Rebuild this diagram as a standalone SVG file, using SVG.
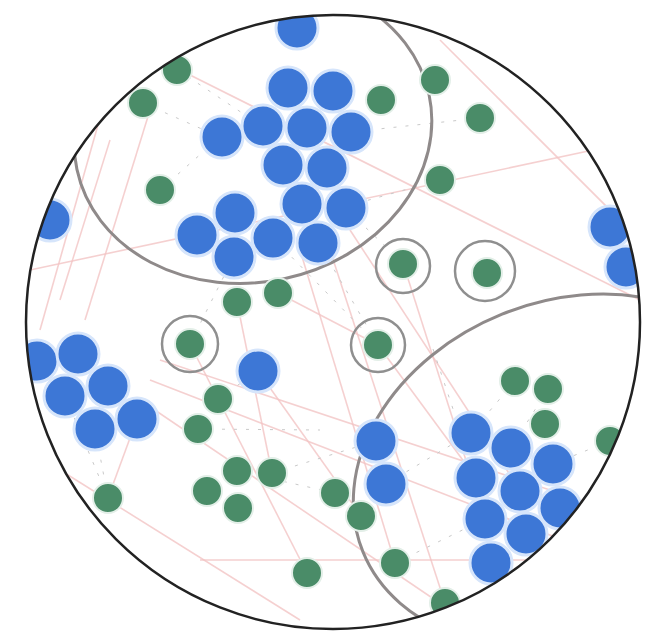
<svg xmlns="http://www.w3.org/2000/svg" width="646" height="632" viewBox="0 0 646 632">
<defs>
<clipPath id="lens"><circle cx="333" cy="322" r="307"/></clipPath>
<style>
.b{fill:#3d77d6;stroke:#d6e5fb;stroke-width:3}
.g{fill:#4a8c68;stroke:#e3efe8;stroke-width:2}
.e{stroke:#f2c4c4;stroke-width:1.6;fill:none;opacity:.8}
.d{stroke:#c9c9c9;stroke-width:1;fill:none;stroke-dasharray:3 9}
.ring{fill:none;stroke:#8f8f8f;stroke-width:2.5}
.hull{fill:none;stroke:#8f8a8a;stroke-width:3}
</style>
</defs>
<rect width="646" height="632" fill="#fff"/>
<g clip-path="url(#lens)">
<g id="connectors">
<path class="e" d="M60 300 L110 140"/>
<path class="e" d="M85 320 L150 110"/>
<path class="e" d="M40 330 L105 100"/>
<path class="e" d="M150 380 L640 570"/>
<path class="e" d="M140 400 L450 610"/>
<path class="e" d="M160 360 L640 520"/>
<path class="e" d="M330 250 L445 603"/>
<path class="e" d="M300 250 L395 563"/>
<path class="e" d="M350 230 L520 490"/>
<path class="e" d="M378 345 L476 478"/>
<path class="e" d="M403 263 L485 520"/>
<path class="e" d="M190 344 L307 573"/>
<path class="e" d="M258 371 L361 516"/>
<path class="e" d="M237 302 L272 473"/>
<path class="e" d="M278 293 L378 345"/>
<path class="e" d="M30 270 L640 140"/>
<path class="e" d="M120 40 L640 300"/>
<path class="e" d="M440 40 L640 240"/>
<path class="e" d="M60 470 L300 620"/>
<path class="e" d="M108 498 L137 419"/>
<path class="e" d="M200 560 L640 560"/>
<path class="d" d="M143 103 L220 137"/>
<path class="d" d="M178 70 L263 127"/>
<path class="d" d="M160 190 L220 137"/>
<path class="d" d="M381 101 L350 130"/>
<path class="d" d="M480 118 L351 132"/>
<path class="d" d="M440 180 L344 207"/>
<path class="d" d="M190 344 L233 258"/>
<path class="d" d="M378 345 L318 242"/>
<path class="d" d="M378 345 L273 238"/>
<path class="d" d="M403 263 L344 207"/>
<path class="d" d="M218 399 L258 371"/>
<path class="d" d="M237 471 L335 493"/>
<path class="d" d="M272 473 L376 441"/>
<path class="d" d="M198 429 L320 430"/>
<path class="d" d="M108 498 L95 429"/>
<path class="d" d="M108 498 L65 396"/>
<path class="d" d="M515 381 L471 433"/>
<path class="d" d="M548 389 L511 448"/>
<path class="d" d="M610 441 L553 464"/>
<path class="d" d="M395 563 L485 519"/>
<path class="d" d="M386 484 L471 433"/>
<path class="d" d="M433 349 L476 478"/>
<path class="d" d="M238 303 L240 250"/>
</g>
<ellipse class="hull" cx="253" cy="132" rx="180" ry="150" transform="rotate(-12 253 132)"/>
<ellipse class="hull" cx="565" cy="470" rx="218" ry="168" transform="rotate(-22 565 470)"/>
<circle class="ring" cx="190" cy="344" r="28"/>
<circle class="ring" cx="378" cy="345" r="27"/>
<circle class="ring" cx="403" cy="266" r="27"/>
<circle class="ring" cx="485" cy="271" r="30"/>
<g id="n1"><circle class="b" cx="297" cy="28" r="21"/></g>
<g id="n2"><circle class="b" cx="288" cy="88" r="21"/></g>
<g id="n3"><circle class="b" cx="333" cy="91" r="21"/></g>
<g id="n4"><circle class="b" cx="222" cy="137" r="21"/></g>
<g id="n5"><circle class="b" cx="263" cy="126" r="21"/></g>
<g id="n6"><circle class="b" cx="307" cy="128" r="21"/></g>
<g id="n7"><circle class="b" cx="351" cy="132" r="21"/></g>
<g id="n8"><circle class="b" cx="283" cy="165" r="21"/></g>
<g id="n9"><circle class="b" cx="327" cy="168" r="21"/></g>
<g id="n10"><circle class="b" cx="302" cy="204" r="21"/></g>
<g id="n11"><circle class="b" cx="346" cy="208" r="21"/></g>
<g id="n12"><circle class="b" cx="235" cy="213" r="21"/></g>
<g id="n13"><circle class="b" cx="197" cy="235" r="21"/></g>
<g id="n14"><circle class="b" cx="234" cy="257" r="21"/></g>
<g id="n15"><circle class="b" cx="273" cy="238" r="21"/></g>
<g id="n16"><circle class="b" cx="318" cy="243" r="21"/></g>
<g id="n17"><circle class="b" cx="50" cy="220" r="21"/></g>
<g id="n18"><circle class="b" cx="610" cy="227" r="21"/></g>
<g id="n19"><circle class="b" cx="626" cy="267" r="21"/></g>
<g id="n20"><circle class="g" cx="177" cy="70" r="15"/></g>
<g id="n21"><circle class="g" cx="143" cy="103" r="15"/></g>
<g id="n22"><circle class="g" cx="160" cy="190" r="15"/></g>
<g id="n23"><circle class="g" cx="237" cy="302" r="15"/></g>
<g id="n24"><circle class="g" cx="278" cy="293" r="15"/></g>
<g id="n25"><circle class="g" cx="435" cy="80" r="15"/></g>
<g id="n26"><circle class="g" cx="381" cy="100" r="15"/></g>
<g id="n27"><circle class="g" cx="480" cy="118" r="15"/></g>
<g id="n28"><circle class="g" cx="440" cy="180" r="15"/></g>
<g id="n29"><circle class="g" cx="403" cy="264" r="15"/></g>
<g id="n30"><circle class="g" cx="487" cy="273" r="15"/></g>
<g id="n31"><circle class="b" cx="37" cy="361" r="21"/></g>
<g id="n32"><circle class="b" cx="78" cy="354" r="21"/></g>
<g id="n33"><circle class="b" cx="65" cy="396" r="21"/></g>
<g id="n34"><circle class="b" cx="108" cy="386" r="21"/></g>
<g id="n35"><circle class="b" cx="95" cy="429" r="21"/></g>
<g id="n36"><circle class="b" cx="137" cy="419" r="21"/></g>
<g id="n37"><circle class="b" cx="258" cy="371" r="21"/></g>
<g id="n38"><circle class="g" cx="190" cy="344" r="15"/></g>
<g id="n39"><circle class="g" cx="378" cy="345" r="15"/></g>
<g id="n40"><circle class="g" cx="218" cy="399" r="15"/></g>
<g id="n41"><circle class="g" cx="198" cy="429" r="15"/></g>
<g id="n42"><circle class="g" cx="237" cy="471" r="15"/></g>
<g id="n43"><circle class="g" cx="272" cy="473" r="15"/></g>
<g id="n44"><circle class="g" cx="207" cy="491" r="15"/></g>
<g id="n45"><circle class="g" cx="238" cy="508" r="15"/></g>
<g id="n46"><circle class="g" cx="108" cy="498" r="15"/></g>
<g id="n47"><circle class="g" cx="307" cy="573" r="15"/></g>
<g id="n48"><circle class="b" cx="376" cy="441" r="21"/></g>
<g id="n49"><circle class="b" cx="386" cy="484" r="21"/></g>
<g id="n50"><circle class="b" cx="471" cy="433" r="21"/></g>
<g id="n51"><circle class="b" cx="511" cy="448" r="21"/></g>
<g id="n52"><circle class="b" cx="476" cy="478" r="21"/></g>
<g id="n53"><circle class="b" cx="553" cy="464" r="21"/></g>
<g id="n54"><circle class="b" cx="520" cy="491" r="21"/></g>
<g id="n55"><circle class="b" cx="485" cy="519" r="21"/></g>
<g id="n56"><circle class="b" cx="560" cy="508" r="21"/></g>
<g id="n57"><circle class="b" cx="526" cy="534" r="21"/></g>
<g id="n58"><circle class="b" cx="491" cy="563" r="21"/></g>
<g id="n59"><circle class="g" cx="515" cy="381" r="15"/></g>
<g id="n60"><circle class="g" cx="548" cy="389" r="15"/></g>
<g id="n61"><circle class="g" cx="545" cy="424" r="15"/></g>
<g id="n62"><circle class="g" cx="610" cy="441" r="15"/></g>
<g id="n63"><circle class="g" cx="335" cy="493" r="15"/></g>
<g id="n64"><circle class="g" cx="361" cy="516" r="15"/></g>
<g id="n65"><circle class="g" cx="395" cy="563" r="15"/></g>
<g id="n66"><circle class="g" cx="445" cy="603" r="15"/></g>
</g>
<circle cx="333" cy="322" r="307" fill="none" stroke="#222" stroke-width="2.5"/>
</svg>
